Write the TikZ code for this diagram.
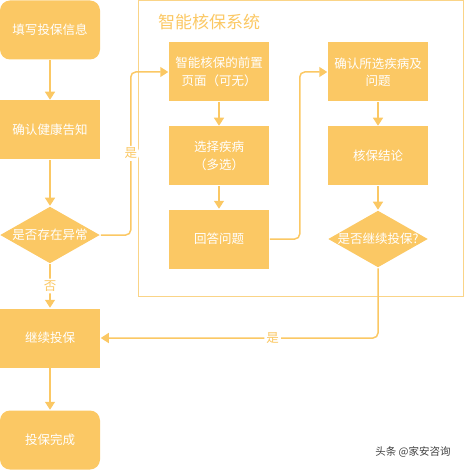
\documentclass[tikz,border=0pt]{standalone}
\usepackage{fontspec}
\setmainfont{Noto Sans CJK SC}
\usepackage{tikz}
\usetikzlibrary{arrows.meta,shapes.geometric}
\definecolor{flowfill}{RGB}{251,200,100}
\definecolor{framecol}{RGB}{250,212,135}
\tikzset{box node/.style={rectangle,fill=flowfill,text=white,minimum width=100pt,minimum height=59pt,inner sep=0pt,align=center,font=\fontsize{12.5}{17.5}\selectfont},
}

\begin{document}
\begin{tikzpicture}[x=1pt,y=-1pt,>={Triangle[width=10pt,length=8pt]},line width=1.5pt,node distance=100pt,
		end node/.style={box node,rounded corners=10pt},
		check node/.style={diamond,fill=flowfill,minimum width=100pt,minimum height=57pt,inner sep=0pt,aspect=1.75},
		check text/.style={text=white,font=\fontsize{12.5}{15}\selectfont},
		flow/.style={->,draw=flowfill,rounded corners=5pt},
		tag/.style={fill=white,text=flowfill,font=\fontsize{12.5}{15}\selectfont,inner sep=2pt}]
		\useasboundingbox (0,0) rectangle (464,470);
		
		% left column
		\node[end node] (info) at (50,30) {填写投保信息};
		\node[box node] (health) [below of=info] {确认健康告知};
		\node[check node] (chk) [below of=health, node distance=105pt, label={[check text]center:是否存在异常}] {};
		\node[box node] (cont) [below of=chk, node distance=103pt] {继续投保};
		\node[end node] (done) [below of=cont, node distance=102pt] {投保完成};
		
		% system frame
		\draw[framecol,line width=1pt] (138,1) rectangle (463,296);
		\node[anchor=west,text=flowfill,font=\fontsize{17}{20}\selectfont] (sys) at (154,22) {智能核保系统};
		
		\node[box node] (pre) at (219,72) {智能核保的前置\\页面（可无）};
		\node[box node] (ill) [below of=pre, node distance=84pt] {选择疾病\\（多选）};
		\node[box node] (ans) [below of=ill, node distance=83pt] {回答问题};
		\node[box node] (sel) at (378,72) {确认所选疾病及\\问题};
		\node[box node] (res) [below of=sel, node distance=84pt] {核保结论};
		\node[check node] (go) [below of=res, node distance=83pt, label={[check text]center:是否继续投保?}] {};
		
		\node[text=black!75,font=\fontsize{10.5}{12}\selectfont] (mark) at (413,452) {头条 @家安咨询};
		
		% connectors
		\draw[flow] (info) -- (health);
		\draw[flow] (health) -- (chk);
		\draw[flow] (chk) -- node[tag] {否} (cont);
		\draw[flow] (cont) -- (done);
		\draw[flow] (chk.east) -- ++(30,0) |- node[tag,pos=0.25] {是} (pre.west);
		\draw[flow] (pre) -- (ill);
		\draw[flow] (ill) -- (ans);
		\draw[flow] (ans.east) -- ++(30,0) |- (sel.west);
		\draw[flow] (sel) -- (res);
		\draw[flow] (res) -- (go);
		\draw[flow] (go.south) |- node[tag,pos=0.69] {是} (cont.east);
\end{tikzpicture}
\end{document}
